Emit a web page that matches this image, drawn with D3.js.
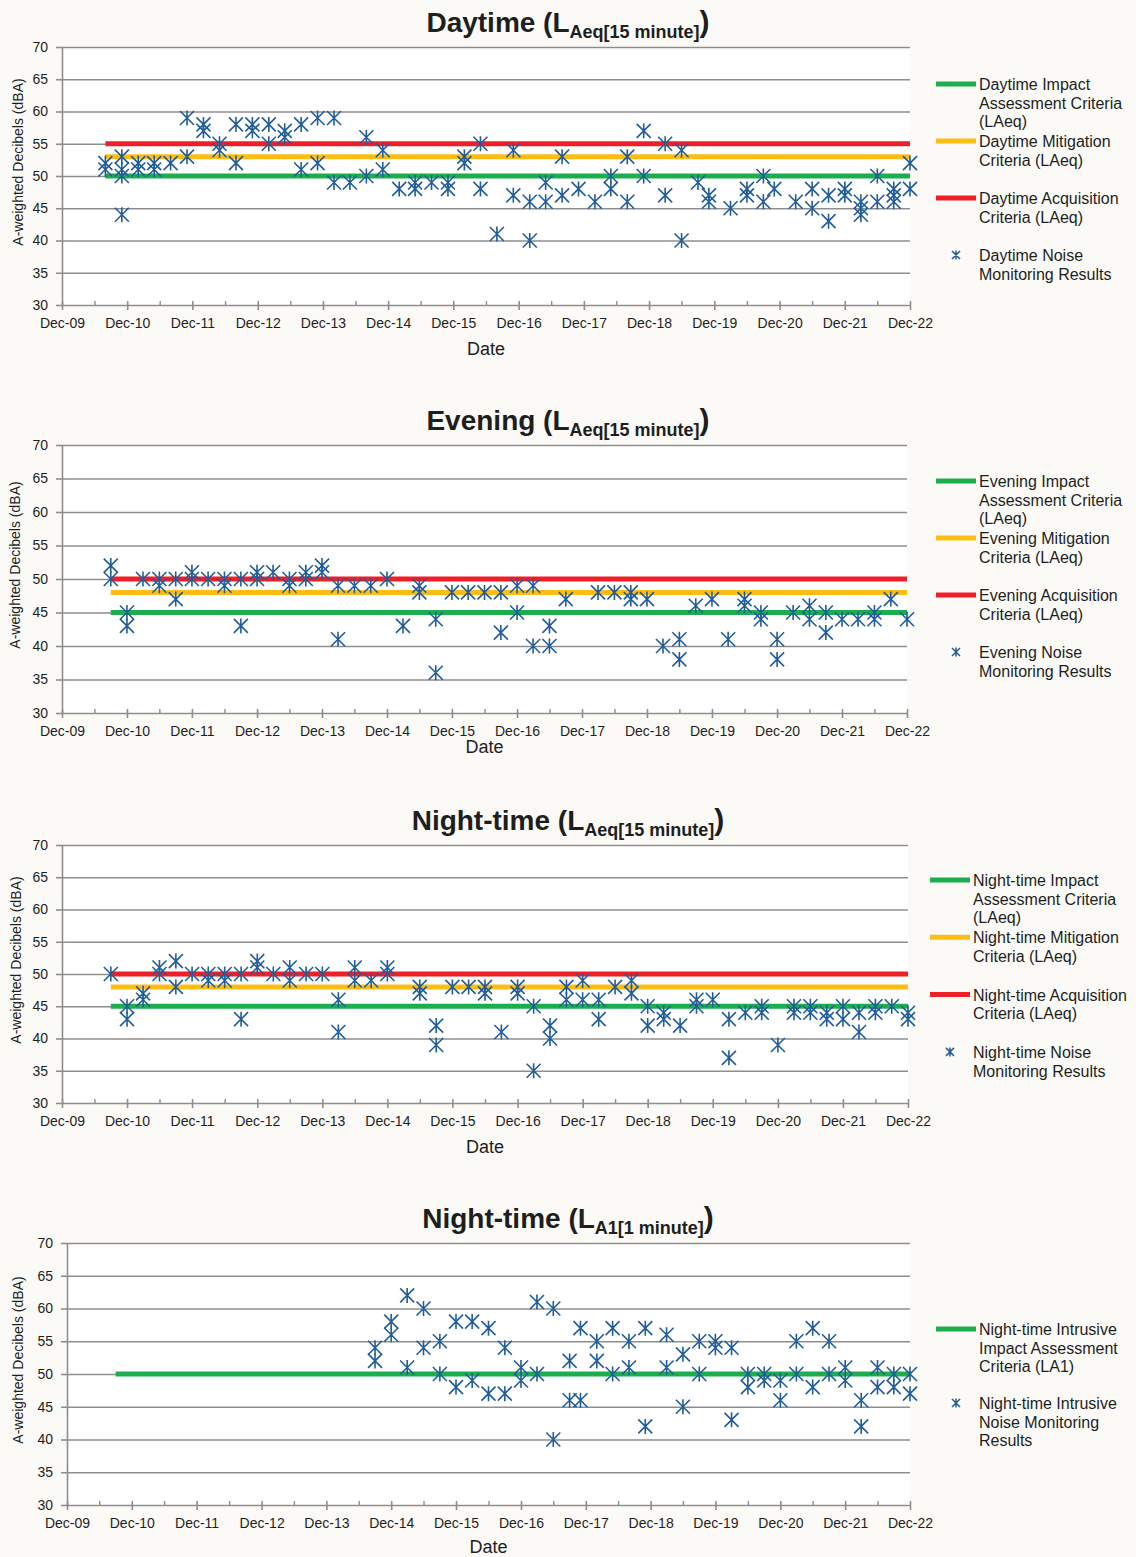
<!DOCTYPE html>
<html>
<head>
<meta charset="utf-8">
<script src="https://cdn.jsdelivr.net/npm/d3@7"></script>
<style>
  html, body { margin: 0; padding: 0; background: #fbfaf6; }
  svg { display: block; font-family: "Liberation Sans", Arial, sans-serif; }
</style>
</head>
<body>
<svg id="chart" width="1136" height="1557"></svg>
<script>
// ---- Monitoring rounds (month of survey) and measured levels, dBA ----
const dayDates = ["2010-08","2010-11","2011-02","2011-05","2011-08","2011-11","2012-02","2012-05","2012-08","2012-11",
  "2013-02","2013-05","2013-08","2013-11","2014-02","2014-05","2014-08","2014-11","2015-02","2015-05",
  "2015-08","2015-11","2016-02","2016-05","2016-08","2016-11","2017-02","2017-05","2017-08","2017-11",
  "2018-02","2018-05","2018-08","2018-11","2019-03","2019-06","2019-09","2019-11","2020-03","2020-06",
  "2020-09","2020-11","2021-03","2021-06","2021-09","2021-12","2022-03","2022-06","2022-09","2022-12"];
const dayLevels = [[52,51],[53,51,50,44],[52,51],[52,51],[52],[59,53],[58,57],[55,54],[58,52],[58,57],
  [58,55],[57,56],[58,51],[59,52],[59,49],[49],[56,50],[54,51],[48],[49,48],
  [49],[49,48],[53,52],[55,48],[41],[54,47],[46,40],[49,46],[53,47],[48],
  [46],[50,48],[53,46],[57,50],[55,47],[54,40],[49],[47,46],[45],[48,47],
  [50,46],[48],[46],[48,45],[47,43],[48,47],[46,45,44],[50,46],[48,47,46],[52,48]];

const eveDates = ["2010-09","2010-12","2011-03","2011-06","2011-09","2011-12","2012-03","2012-06","2012-09","2012-12",
  "2013-03","2013-06","2013-09","2013-12","2014-03","2014-06","2014-09","2014-12","2015-03","2015-06",
  "2015-09","2015-12","2016-03","2016-06","2016-09","2016-12","2017-03","2017-06","2017-09","2018-03",
  "2018-06","2018-09","2018-12","2019-03","2019-06","2019-09","2019-12","2020-03","2020-06","2020-09",
  "2020-12","2021-03","2021-06","2021-09","2021-12","2022-03","2022-06","2022-09","2022-12"];
const eveLevels = [[52,50],[45,43],[50],[50,49],[50,47],[51,50],[50],[50,49],[50,43],[51,50],
  [51],[50,49],[51,50],[52,51],[49,41],[49],[49],[50],[43],[49,48],
  [44,36],[48],[48],[48],[48,42],[49,45],[49,40],[43,40],[47],[48],
  [48],[48,47],[47],[40],[41,38],[46],[47],[41],[47,46],[45,44],
  [41,38],[45],[46,44],[45,42],[44],[44],[45,44],[47],[44]];

const nightDates = ["2010-09","2010-12","2011-03","2011-06","2011-09","2011-12","2012-03","2012-06","2012-09","2012-12",
  "2013-03","2013-06","2013-09","2013-12","2014-03","2014-06","2014-09","2014-12","2015-06","2015-09",
  "2015-12","2016-03","2016-06","2016-09","2016-12","2017-03","2017-06","2017-09","2017-12","2018-03",
  "2018-06","2018-09","2018-12","2019-03","2019-06","2019-09","2019-12","2020-03","2020-06","2020-09",
  "2020-12","2021-03","2021-06","2021-09","2021-12","2022-03","2022-06","2022-09","2022-12"];
const nightLevels = [[50],[45,43],[47,46],[51,50],[52,48],[50],[50,49],[50,49],[50,43],[52,51],
  [50],[51,49],[50],[50],[46,41],[51,49],[49],[51,50],[48,47],[42,39],
  [48],[48],[48,47],[41],[48,47],[45,35],[42,40],[48,46],[49,46],[46,43],
  [48],[49,47],[45,42],[44,43],[42],[46,45],[46],[43,37],[44],[45,44],
  [39],[45,44],[45,44],[44,43],[45,43],[44,41],[45,44],[45],[44,43]];

const la1Dates = ["2014-09","2014-12","2015-03","2015-06","2015-09","2015-12","2016-03","2016-06","2016-09","2016-12",
  "2017-03","2017-06","2017-09","2017-11","2018-02","2018-05","2018-08","2018-11","2019-03","2019-06",
  "2019-09","2019-12","2020-03","2020-06","2020-09","2020-12","2021-03","2021-06","2021-09","2021-12",
  "2022-03","2022-06","2022-09","2022-12"];
const la1Levels = [[54,52],[58,56],[62,51],[60,54],[55,50],[58,48],[58,49],[57,47],[54,47],[51,49],
  [61,50],[60,40],[52,46],[57,46],[55,52],[57,50],[55,51],[57,42],[56,51],[53,45],
  [55,50],[55,54],[54,43],[50,48],[50,49],[49,46],[55,50],[57,48],[55,50],[51,49],
  [46,42],[51,48],[50,48],[50,47]];

// ---- Criteria levels (impact, mitigation, acquisition), dBA ----
const dayCriteria = [50, 53, 55];
const eveCriteria = [45, 48, 50];
const nightCriteria = [45, 48, 50];
const la1Criteria = [50];
const criteriaFrom = ["2010-08", "2010-09", "2010-09", "2010-09"];
const criteriaTo = "2022-12";

// ---- Axis ticks ----
const yTickValues = [30, 35, 40, 45, 50, 55, 60, 65, 70];
const xTickLabels = ["Dec-09","Dec-10","Dec-11","Dec-12","Dec-13","Dec-14","Dec-15",
  "Dec-16","Dec-17","Dec-18","Dec-19","Dec-20","Dec-21","Dec-22"];

// ---- Legend wording ----
const dayLegend = [["Daytime Impact","Assessment Criteria","(LAeq)"],["Daytime Mitigation","Criteria (LAeq)"],
  ["Daytime Acquisition","Criteria (LAeq)"],["Daytime Noise","Monitoring Results"]];
const eveLegend = [["Evening Impact","Assessment Criteria","(LAeq)"],["Evening Mitigation","Criteria (LAeq)"],
  ["Evening Acquisition","Criteria (LAeq)"],["Evening Noise","Monitoring Results"]];
const nightLegend = [["Night-time Impact","Assessment Criteria","(LAeq)"],["Night-time Mitigation","Criteria (LAeq)"],
  ["Night-time Acquisition","Criteria (LAeq)"],["Night-time Noise","Monitoring Results"]];
const la1Legend = [["Night-time Intrusive","Impact Assessment","Criteria (LA1)"],
  ["Night-time Intrusive","Noise Monitoring","Results"]];

// ---- Styling ----
const criteriaColors = ["#1cae4d", "#fdbd14", "#ee1f26"];
const markerColor = "#215d9a";
const gridColor = "#8e8e8e";
const textColor = "#1e1e1e";
const W = 1136, H = 1557;

const parseMonth = d3.timeParse("%Y-%m");
const parseTick = d3.timeParse("%b-%y");
const tickDates = xTickLabels.map(parseTick);
const minorDates = tickDates.slice(0, -1).map(d => d3.timeMonth.offset(d, 6));

const panels = [
  { top: 47, bottom: 305, left: 62, right: 910, title: ["Daytime (L", "Aeq[15 minute]", ")"],
    dates: dayDates, levels: dayLevels, criteria: dayCriteria, from: criteriaFrom[0], legend: dayLegend,
    legLineX: 936, legTextX: 979, legStart: 37, legGap: 57, dateGap: 50, yLabelX: 18 },
  { top: 445, bottom: 713, left: 62, right: 907, title: ["Evening (L", "Aeq[15 minute]", ")"],
    dates: eveDates, levels: eveLevels, criteria: eveCriteria, from: criteriaFrom[1], legend: eveLegend,
    legLineX: 936, legTextX: 979, legStart: 36, legGap: 57, dateGap: 40, yLabelX: 15 },
  { top: 845, bottom: 1103, left: 62, right: 908, title: ["Night-time (L", "Aeq[15 minute]", ")"],
    dates: nightDates, levels: nightLevels, criteria: nightCriteria, from: criteriaFrom[2], legend: nightLegend,
    legLineX: 930, legTextX: 973, legStart: 35, legGap: 57.3, dateGap: 50, yLabelX: 16 },
  { top: 1243, bottom: 1505, left: 67, right: 910, title: ["Night-time (L", "A1[1 minute]", ")"],
    dates: la1Dates, levels: la1Levels, criteria: la1Criteria, from: criteriaFrom[3], legend: la1Legend,
    legLineX: 936, legTextX: 979, legStart: 86, legGap: 74, dateGap: 48, yLabelX: 18 }
];

// six-armed star marker: an X crossed by a vertical stroke
const starPath = (r) => `M${-r},${-r}L${r},${r}M${-r},${r}L${r},${-r}M0,${-r - 0.5}L0,${r + 0.5}`;

const svg = d3.select("#chart");
svg.append("rect").attr("width", W).attr("height", H).attr("fill", "#fbfaf6");

panels.forEach(p => {
  const g = svg.append("g");
  const x = d3.scaleTime().domain([tickDates[0], tickDates[tickDates.length - 1]]).range([p.left, p.right]);
  const y = d3.scaleLinear().domain([30, 70]).range([p.bottom, p.top]);
  const plotW = p.right - p.left;

  g.append("rect").attr("x", p.left).attr("y", p.top).attr("width", plotW)
    .attr("height", p.bottom - p.top).attr("fill", "#ffffff");

  // horizontal gridlines
  const grid = g.append("g").attr("transform", `translate(${p.left},0)`)
    .call(d3.axisLeft(y).tickValues(yTickValues.slice(1)).tickSize(-plotW).tickFormat(""));
  grid.select(".domain").remove();
  grid.selectAll("line").attr("stroke", gridColor).attr("stroke-width", 1.6);

  // y axis
  const ya = g.append("g").attr("transform", `translate(${p.left},0)`)
    .call(d3.axisLeft(y).tickValues(yTickValues).tickSize(6).tickSizeOuter(0).tickPadding(8));
  ya.select(".domain").attr("stroke", gridColor).attr("stroke-width", 1.6);
  ya.selectAll(".tick line").attr("stroke", gridColor).attr("stroke-width", 1.6);
  ya.selectAll("text").attr("font-size", 14).attr("font-family", "Liberation Sans, Arial, sans-serif")
    .attr("fill", textColor);

  // x axis, yearly major ticks with labels
  const xa = g.append("g").attr("transform", `translate(0,${p.bottom})`)
    .call(d3.axisBottom(x).tickValues(tickDates).tickFormat(d3.timeFormat("%b-%y"))
      .tickSize(5).tickSizeOuter(0).tickPadding(8));
  xa.select(".domain").attr("stroke", gridColor).attr("stroke-width", 1.6);
  xa.selectAll(".tick line").attr("y1", -4).attr("stroke", gridColor).attr("stroke-width", 1.6);
  xa.selectAll("text").attr("font-size", 14).attr("font-family", "Liberation Sans, Arial, sans-serif")
    .attr("fill", textColor);

  // half-year minor ticks
  const xm = g.append("g").attr("transform", `translate(0,${p.bottom})`)
    .call(d3.axisBottom(x).tickValues(minorDates).tickSize(-4).tickFormat(""));
  xm.select(".domain").remove();
  xm.selectAll("line").attr("stroke", gridColor).attr("stroke-width", 1.4);

  // criteria lines
  g.append("g").selectAll("line").data(p.criteria).join("line")
    .attr("x1", x(parseMonth(p.from))).attr("x2", x(parseMonth(criteriaTo)))
    .attr("y1", d => y(d)).attr("y2", d => y(d))
    .attr("stroke", (d, i) => criteriaColors[i]).attr("stroke-width", 5);

  // monitoring results
  const pts = p.dates.flatMap((d, i) => p.levels[i].map(v => ({ date: parseMonth(d), value: v })));
  g.append("g").selectAll("path").data(pts).join("path")
    .attr("transform", d => `translate(${x(d.date)},${y(d.value)})`)
    .attr("d", starPath(7))
    .attr("fill", "none").attr("stroke", markerColor).attr("stroke-width", 1.6);

  // title with subscript
  const t = g.append("text").attr("x", W / 2).attr("y", p.top - 15).attr("text-anchor", "middle")
    .attr("font-weight", "bold").attr("fill", textColor).attr("font-size", 28);
  t.append("tspan").text(p.title[0]);
  t.append("tspan").attr("font-size", 18).attr("dy", 6).text(p.title[1]);
  t.append("tspan").attr("font-size", 30).attr("dy", -6).text(p.title[2]);

  // axis titles
  g.append("text").attr("x", (p.left + p.right) / 2).attr("y", p.bottom + p.dateGap)
    .attr("text-anchor", "middle").attr("font-size", 18).attr("fill", textColor).text("Date");
  g.append("text").attr("transform", `translate(${p.yLabelX + 5},${(p.top + p.bottom) / 2 - 14}) rotate(-90)`)
    .attr("text-anchor", "middle").attr("font-size", 14).attr("fill", textColor)
    .text("A-weighted Decibels (dBA)");

  // legend
  const lg = g.append("g");
  p.legend.forEach((lines, i) => {
    const cy = p.top + p.legStart + i * p.legGap;
    const isMarker = i === p.legend.length - 1;
    if (isMarker) {
      lg.append("path").attr("transform", `translate(${p.legLineX + 20},${cy})`)
        .attr("d", starPath(4)).attr("fill", "none").attr("stroke", markerColor).attr("stroke-width", 1.5);
    } else {
      lg.append("line").attr("x1", p.legLineX).attr("x2", p.legLineX + 40).attr("y1", cy).attr("y2", cy)
        .attr("stroke", criteriaColors[i]).attr("stroke-width", 5);
    }
    const tx = lg.append("text").attr("x", p.legTextX).attr("y", cy + 6)
      .attr("font-size", 16).attr("fill", textColor);
    lines.forEach((s, j) => {
      tx.append("tspan").attr("x", p.legTextX).attr("dy", j === 0 ? 0 : 18.6).text(s);
    });
  });
});
</script>
</body>
</html>
